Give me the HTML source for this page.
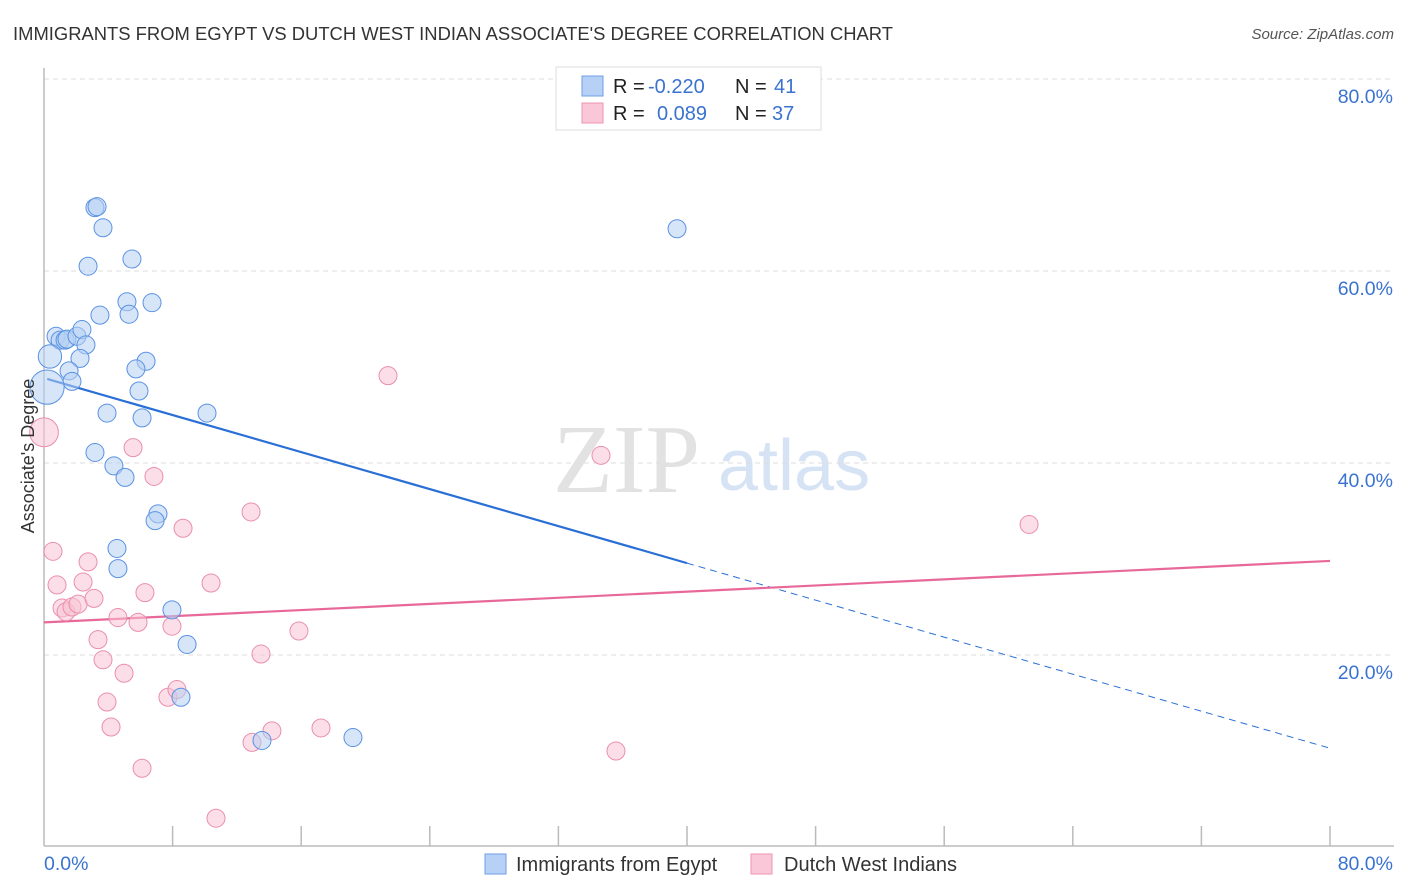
<!DOCTYPE html>
<html><head><meta charset="utf-8"><style>
body{margin:0;background:#fff;font-family:"Liberation Sans",sans-serif;}
svg{display:block}
</style></head><body>
<svg id="chart" width="1406" height="892" xmlns="http://www.w3.org/2000/svg">
<text x="13" y="40" font-size="18" fill="#333" textLength="880" lengthAdjust="spacingAndGlyphs">IMMIGRANTS FROM EGYPT VS DUTCH WEST INDIAN ASSOCIATE'S DEGREE CORRELATION CHART</text>
<text x="1394" y="39" font-size="15" fill="#555" font-style="italic" text-anchor="end">Source: ZipAtlas.com</text>
<g>
<text x="553" y="492" font-family="Liberation Serif,serif" font-size="98" fill="#e2e2e2">ZIP</text>
<text x="718" y="490" font-size="72" fill="#d6e3f5">atlas</text>
</g>
<g id="grid"></g>
<g id="axes"></g>
<g id="trends"></g>
<g id="points"></g>
<text x="34" y="456" font-size="18" fill="#333" text-anchor="middle" transform="rotate(-90 34 456)">Associate's Degree</text>
<g>
<rect x="556" y="67" width="265" height="63" fill="#fff" stroke="#ddd"/>
<rect x="582" y="76" width="21" height="20" fill="#b7d0f5" stroke="#6e9fe6"/>
<rect x="582" y="103" width="21" height="20" fill="#f9c7d7" stroke="#ec94b2"/>
<text x="613" y="93" font-size="20" fill="#222">R = <tspan fill="#3a73cf" x="648">-0.220</tspan></text>
<text x="735" y="93" font-size="20" fill="#222">N = <tspan fill="#3a73cf" x="774">41</tspan></text>
<text x="613" y="120" font-size="20" fill="#222">R = <tspan fill="#3a73cf" x="657">0.089</tspan></text>
<text x="735" y="120" font-size="20" fill="#222">N = <tspan fill="#3a73cf" x="772">37</tspan></text>
</g>
<g>
<rect x="485" y="854" width="21" height="20" fill="#b7d0f5" stroke="#6e9fe6"/>
<text x="516" y="871" font-size="20" fill="#333">Immigrants from Egypt</text>
<rect x="751" y="854" width="21" height="20" fill="#f9c7d7" stroke="#ec94b2"/>
<text x="784" y="871" font-size="20" fill="#333">Dutch West Indians</text>
</g>
</svg>
<script>
const yTicks=[20,40,60,80];
const yTickLabels=["20.0%","40.0%","60.0%","80.0%"];
const xTickLabels=["0.0%","80.0%"];
const egyptX=[3.17,3.30,3.67,2.74,5.47,5.16,6.72,5.29,3.48,0.75,1.0,1.31,1.43,2.05,2.36,2.61,0.37,2.24,1.56,1.74,0.19,6.35,5.72,5.91,3.92,6.10,10.14,3.17,4.35,5.04,7.09,6.91,4.54,4.60,7.96,8.90,8.52,13.56,19.22,39.38];
const egyptY=[66.6,66.7,64.5,60.5,61.25,56.8,56.7,55.5,55.4,53.2,52.8,52.8,52.9,53.2,53.9,52.3,51.1,50.9,49.6,48.5,47.9,50.6,49.8,47.5,45.2,44.7,45.2,41.1,39.7,38.5,34.7,34.0,31.1,29.0,24.7,21.1,15.6,11.1,11.4,64.4];
const egyptSize=[1,1,1,1,1,1,1,1,1,1,1,1,1,1,1,1,1.3,1,1,1,1.9,1,1,1,1,1,1,1,1,1,1,1,1,1,1,1,1,1,1,1];
const dutchX=[0,0.56,0.81,2.74,2.43,1.12,1.37,1.74,2.12,3.11,3.36,3.67,4.98,3.92,4.17,4.60,5.85,6.28,5.54,6.84,8.65,7.96,10.39,12.88,13.50,15.86,7.71,8.27,12.94,14.18,17.23,6.10,10.70,21.40,34.65,35.58,61.28];
const dutchY=[43.2,30.8,27.3,29.7,27.6,24.9,24.5,25.0,25.3,25.9,21.6,19.5,18.1,15.1,12.5,23.9,23.4,26.5,41.6,38.6,33.2,23.0,27.5,34.9,20.1,22.5,15.6,16.4,10.9,12.1,12.4,8.2,3.0,49.1,40.8,10.0,33.6];
const dutchSize=[1.6,1,1,1,1,1,1,1,1,1,1,1,1,1,1,1,1,1,1,1,1,1,1,1,1,1,1,1,1,1,1,1,1,1,1,1,1];
const egyptTrend=[48.85,-0.482];
const dutchTrend=[23.4,0.08];
const egyptSolidEnd=40;

const NS="http://www.w3.org/2000/svg";
const X0=44,X1=1330,Y0=847,PY=9.6;
function sx(v){return X0+v*(X1-X0)/80;}
function sy(v){return Y0-v*PY;}
function mk(tag,attrs,parent){const e=document.createElementNS(NS,tag);for(const k in attrs)e.setAttribute(k,attrs[k]);parent.appendChild(e);return e;}

const grid=document.getElementById('grid');
yTicks.forEach((t,i)=>{
  const l=mk('line',{x1:X0,x2:1394,y1:sy(t),y2:sy(t),stroke:'#ddd','stroke-dasharray':'5,4'},grid);
  
  
  const tx=mk('text',{x:1393,y:sy(t)+24,'font-size':19.5,fill:'#3a73cf','text-anchor':'end'},grid);
  tx.textContent=yTickLabels[i];
  
  
});
const axes=document.getElementById('axes');
let a=mk('line',{x1:X0,x2:X0,y1:68,y2:846,stroke:'#bbb','stroke-width':1.5},axes);


a=mk('line',{x1:X0,x2:1394,y1:846,y2:846,stroke:'#bbb','stroke-width':1.5},axes);


for(let i=1;i<=10;i++){
  const t=mk('line',{x1:sx(i*8),x2:sx(i*8),y1:826,y2:846,stroke:'#bbb','stroke-width':1.5},axes);
  
  
}
let xl=mk('text',{x:44,y:870,'font-size':19.5,fill:'#3a73cf'},axes);
xl.textContent=xTickLabels[0];


xl=mk('text',{x:1393,y:870,'font-size':19.5,fill:'#3a73cf','text-anchor':'end'},axes);
xl.textContent=xTickLabels[1];



const pts=document.getElementById('points');
function drawSeries(xs,ys,sz,fill,stroke,name){
  xs.forEach((x,i)=>{
    const c=mk('circle',{cx:sx(x),cy:sy(ys[i]),r:9*sz[i],fill:fill,'fill-opacity':0.55,stroke:stroke,'stroke-width':1},pts);
    
    
  });
}
drawSeries(dutchX,dutchY,dutchSize,'#f8c3d4','#ea8fae','dutch-point');
drawSeries(egyptX,egyptY,egyptSize,'#b5cff3','#5b92e3','egypt-point');

const tr=document.getElementById('trends');
let l=mk('line',{x1:sx(0.2),y1:sy(egyptTrend[0]+egyptTrend[1]*0.2),x2:sx(egyptSolidEnd),y2:sy(egyptTrend[0]+egyptTrend[1]*egyptSolidEnd),stroke:'#2a6fd6','stroke-width':2.2},tr);


l=mk('line',{x1:sx(egyptSolidEnd),y1:sy(egyptTrend[0]+egyptTrend[1]*egyptSolidEnd),x2:sx(80),y2:sy(egyptTrend[0]+egyptTrend[1]*80),stroke:'#2a6fd6','stroke-width':1,'stroke-dasharray':'7,5'},tr);


l=mk('line',{x1:sx(0),y1:sy(dutchTrend[0]),x2:sx(80),y2:sy(dutchTrend[0]+dutchTrend[1]*80),stroke:'#e8689a','stroke-width':2.2},tr);


</script>
</body></html>
